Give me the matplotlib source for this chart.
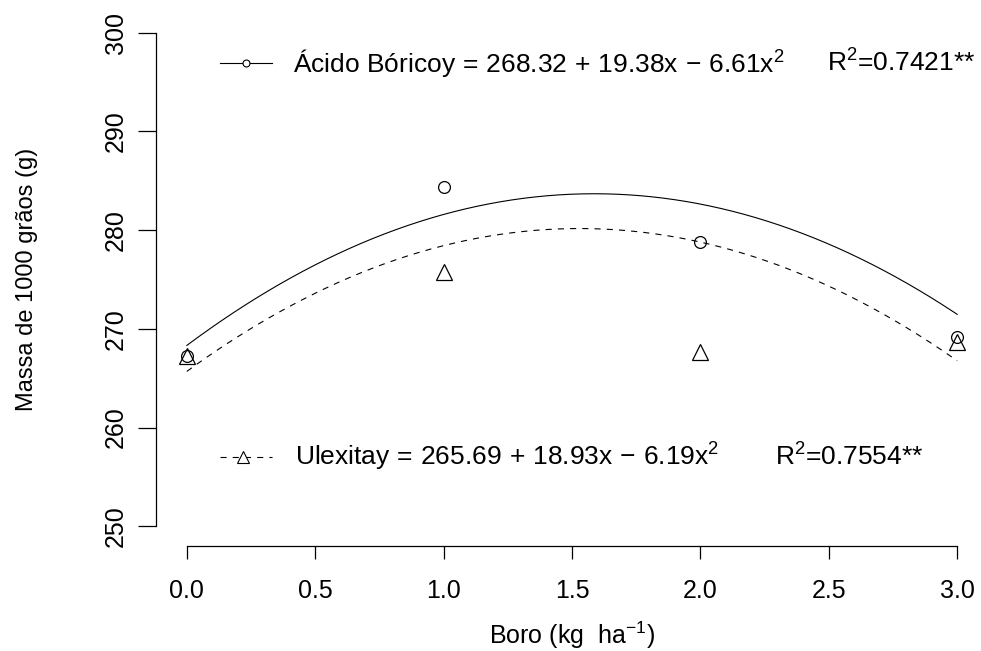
import matplotlib
matplotlib.use("Agg")
import matplotlib.pyplot as plt
import numpy as np

plt.rcParams['font.family'] = ['Liberation Sans', 'DejaVu Sans']
plt.rcParams['mathtext.fontset'] = 'custom'
plt.rcParams['mathtext.rm'] = 'Liberation Sans'
plt.rcParams['mathtext.it'] = 'Liberation Sans'

# observed means
doses = [0.0, 1.0, 2.0, 3.0]
acido = [267.3, 284.4, 278.8, 269.2]
ulexita = [267.2, 275.8, 267.7, 268.7]

# quadratic curves as drawn (b0, b1, b2)
coef_acido = [268.32, 19.38, -6.11]
coef_ulexita = [265.69, 18.93, -6.19]

xticks = [0.0, 0.5, 1.0, 1.5, 2.0, 2.5, 3.0]
yticks = [250, 260, 270, 280, 290, 300]

FS = 18
FS_LEG = 19

fig = plt.figure(figsize=(9.81, 6.51), dpi=100)
ax = fig.add_axes([156/981, 1 - 546/651, 832/981, 533/651])
ax.set_xlim(-0.12, 3.12)
ax.set_ylim(248, 302)

xs = np.linspace(0, 3, 200)
fit_a = coef_acido[0] + coef_acido[1]*xs + coef_acido[2]*xs**2
fit_u = coef_ulexita[0] + coef_ulexita[1]*xs + coef_ulexita[2]*xs**2

ax.plot(xs, fit_a, color='black', lw=0.8)
ax.plot(xs, fit_u, color='black', lw=0.8, linestyle=(0, (5.5, 5.5)))
ax.plot(doses, acido, 'o', mfc='none', mec='black', mew=0.9, ms=8.5)
ax.plot(doses, ulexita, '^', mfc='none', mec='black', mew=0.9, ms=12)

for s in ['top', 'right']:
    ax.spines[s].set_visible(False)
ax.spines['left'].set_bounds(250, 300)
ax.spines['bottom'].set_bounds(0, 3)
ax.spines['left'].set_linewidth(0.9)
ax.spines['bottom'].set_linewidth(0.9)

ax.set_xticks(xticks)
ax.set_xticklabels([f"{v:.1f}" for v in xticks])
ax.set_yticks(yticks)
ax.set_yticklabels([str(v) for v in yticks], rotation=90, va='center')
ax.tick_params(axis='y', length=13, width=0.9, labelsize=FS, pad=7)
ax.tick_params(axis='x', length=9.5, width=0.9, labelsize=FS, pad=14)

ax.set_xlabel(r"Boro (kg  ha$^{-1}$)", fontsize=FS, labelpad=12)
ax.set_ylabel("Massa de 1000 grãos (g)", fontsize=17, labelpad=48)

# legend entries
eq_a = r"Ácido Bórico$\mathrm{y \,=\, 268.32 \,+\, 19.38x \,-\, 6.61x^2}$"
eq_u = r"Ulexita$\mathrm{y \,=\, 265.69 \,+\, 18.93x \,-\, 6.19x^2}$"

ax.plot([0.129, 0.331], [296.96, 296.96], color='black', lw=0.8)
ax.plot([0.230], [296.96], 'o', mfc='white', mec='black', mew=0.8, ms=5)
ax.text(0.413, 296.96, eq_a, fontsize=FS_LEG, va='center', ha='left')
ax.text(2.493, 296.96, r"R$^2$=0.7421**", fontsize=FS_LEG, va='center', ha='left')

ax.plot([0.129, 0.331], [257.0, 257.0], color='black', lw=0.8,
        linestyle=(0, (5.5, 5.5)))
ax.plot([0.22], [257.0], '^', mfc='white', mec='black', mew=0.8, ms=8)
ax.text(0.421, 257.0, eq_u, fontsize=FS_LEG, va='center', ha='left')
ax.text(2.29, 257.0, r"R$^2$=0.7554**", fontsize=FS_LEG, va='center', ha='left')

fig.savefig("out.png", dpi=100)
